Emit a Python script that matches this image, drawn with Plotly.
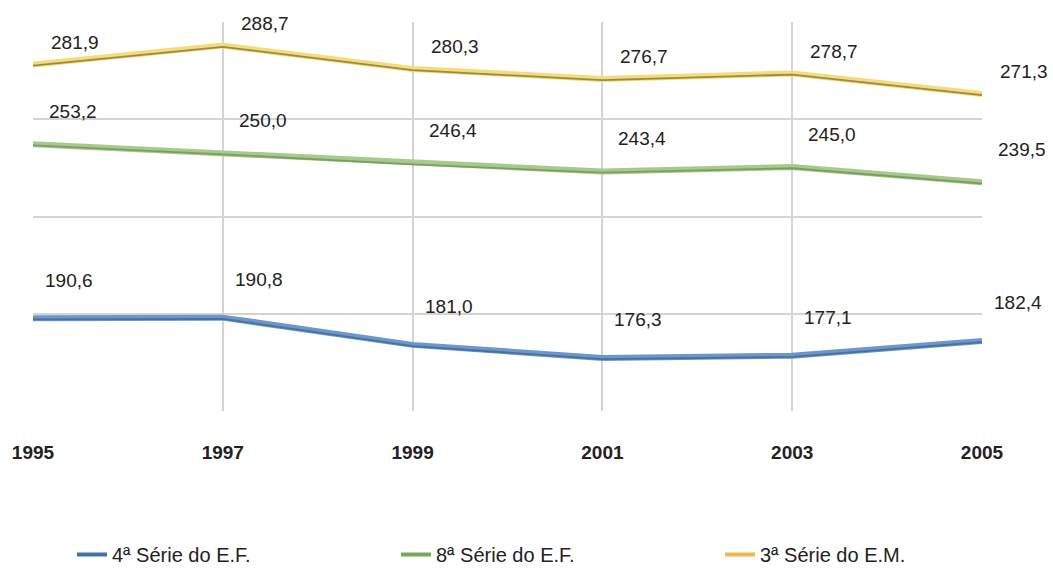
import plotly.graph_objects as go

years = [1995, 1997, 1999, 2001, 2003, 2005]
serie4_ef = [190.6, 190.8, 181.0, 176.3, 177.1, 182.4]
serie8_ef = [253.2, 250.0, 246.4, 243.4, 245.0, 239.5]
serie3_em = [281.9, 288.7, 280.3, 276.7, 278.7, 271.3]
names = ["4ª Série do E.F.", "8ª Série do E.F.", "3ª Série do E.M."]

W, H = 1053, 574
def fx(px):
    return px / W
def fy(py):
    return 1 - py / H

y_lo, y_hi = 157.2, 297.2
px_per_unit = (411 - 22) / (y_hi - y_lo)
sh = 1.2 / px_per_unit  # stripe offset

series = [
    # data, axis, domain px, line color, stripe color, legend color, label shift
    (serie4_ef, "x2", (32, 983), "#6d97c9", "#3e689d", "#3f70a6", (36, 38)),
    (serie8_ef, "x3", (42, 973), "#a6c98c", "#6f9659", "#78a85a", (40, 33)),
    (serie3_em, "x4", (55, 963), "#f2dc7c", "#8a7436", "#f2b64a", (42, 22)),
]

fig = go.Figure()
annotations = []
for i, (vals, xa, dom, col, shcol, legcol, (dx, dy)) in enumerate(series):
    fig.add_trace(go.Scatter(x=years, y=vals, mode="lines", xaxis=xa, yaxis="y",
                             line=dict(color=col, width=6), showlegend=False))
    fig.add_trace(go.Scatter(x=years, y=vals, mode="lines", xaxis=xa, yaxis="y2",
                             line=dict(color=shcol, width=1.8), opacity=0.8,
                             showlegend=False, hoverinfo="skip"))
    for x, v in zip(years, vals):
        annotations.append(dict(x=x, y=v, xref=xa, yref="y",
                                text=f"{v:.1f}".replace(".", ","),
                                showarrow=False, xshift=dx, yshift=dy,
                                font=dict(size=19, color="#222222",
                                          family="Liberation Sans, Arial, sans-serif")))

for i, (vals, xa, dom, col, shcol, legcol, _) in enumerate(series):
    fig.add_trace(go.Scatter(x=[None], y=[None], mode="lines", name=names[i],
                             line=dict(color=legcol, width=4)))

layout_axes = {}
for vals, xa, dom, *_ in series:
    key = "xaxis" + xa[1:]
    layout_axes[key] = dict(domain=[fx(dom[0]), fx(dom[1])], range=[1995, 2005],
                            overlaying="x", visible=False, anchor="y",
                            automargin=False)

fig.update_layout(
    width=W, height=H, autosize=False,
    margin=dict(l=0, r=0, t=0, b=0, autoexpand=False),
    paper_bgcolor="white", plot_bgcolor="white",
    font=dict(family="Liberation Sans, Arial, sans-serif", color="#222222"),
    xaxis=dict(domain=[fx(33), fx(982)], range=[1995, 2005],
               tickvals=years, ticktext=[str(y) for y in years],
               showgrid=True, gridcolor="#d4d4d4", gridwidth=1.5,
               showline=False, zeroline=False, ticks="", automargin=False,
               ticklabelstandoff=28,
               tickfont=dict(size=19, color="#222222",
                             family="Liberation Sans, Arial, sans-serif",
                             weight="bold")),
    yaxis=dict(domain=[fy(411), fy(22)], range=[y_lo, y_hi],
               tick0=y_lo, dtick=35, showticklabels=False, automargin=False,
               showgrid=True, gridcolor="#d4d4d4", gridwidth=1.5,
               zeroline=False, showline=False),
    yaxis2=dict(domain=[fy(411), fy(22)], range=[y_lo + sh, y_hi + sh],
                overlaying="y", visible=False, automargin=False),
    legend=dict(orientation="h", x=fx(72), y=0, xanchor="left",
                yanchor="bottom", entrywidth=279, entrywidthmode="pixels",
                itemwidth=30, font=dict(size=20, color="#222222")),
    annotations=annotations,
    **layout_axes,
)

fig.write_html("out.html", config={"displayModeBar": False},
               post_script="document.body.style.margin='0';"
                           "document.body.style.overflow='hidden';")
